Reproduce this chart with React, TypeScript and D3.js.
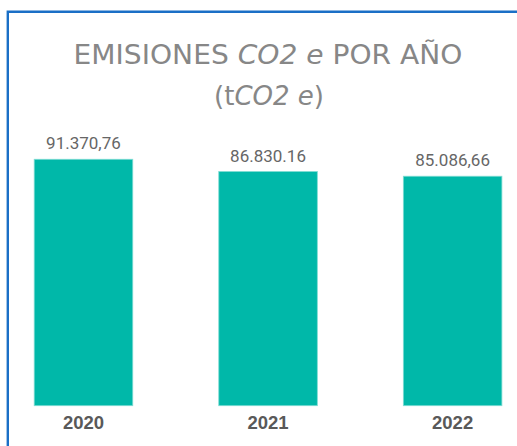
import React from "react";
import * as d3 from "d3";

const years = ["2020", "2021", "2022"];
const values = [91370.76, 86830.16, 85086.66];
const valueLabels = ["91.370,76", "86.830.16", "85.086,66"];
const titleLine1a = "EMISIONES ";
const titleLine1b = "CO2 e";
const titleLine1c = " POR AÑO";

const W = 517;
const H = 446;

export default function App() {
  const x = d3
    .scaleBand<string>()
    .domain(years)
    .range([-8.8, 544.9])
    .paddingInner(0.466)
    .paddingOuter(0.233);
  const y = d3.scaleLinear().domain([0, 100000]).range([405.7, 136]);

  return (
    <svg
      width={W}
      height={H}
      style={{ position: "absolute", left: 0, top: 0, background: "#fff" }}
    >
      <rect x={0} y={0} width={W} height={H} fill="#fff" />
      <path
        d={`M7.8,${H} L7.8,11.8 L${W},11.8`}
        fill="none"
        stroke="#1a6fc6"
        strokeWidth={2.4}
      />
      <text
        x={268}
        y={64}
        textAnchor="middle"
        fill="#878787"
        fontFamily="'DejaVu Sans', sans-serif"
        fontSize={26}
        textLength={389}
        lengthAdjust="spacingAndGlyphs"
      >
        <tspan>{titleLine1a}</tspan>
        <tspan fontStyle="italic">{titleLine1b}</tspan>
        <tspan>{titleLine1c}</tspan>
      </text>
      <text
        x={269}
        y={105}
        textAnchor="middle"
        fill="#878787"
        fontFamily="'DejaVu Sans', sans-serif"
        fontSize={26}
      >
        <tspan>(t</tspan>
        <tspan fontStyle="italic">CO2 e</tspan>
        <tspan>)</tspan>
      </text>
      {years.map((yr, i) => (
        <g key={yr}>
          <rect
            x={x(yr)}
            y={y(values[i])}
            width={x.bandwidth()}
            height={y(0) - y(values[i])}
            fill="#00b8a9"
            stroke="#7fdcd3"
            strokeWidth={0.8}
          />
          <text
            x={(x(yr) as number) + x.bandwidth() / 2}
            y={y(values[i]) - 10}
            textAnchor="middle"
            fill="#666666"
            fontFamily="Roboto, sans-serif"
            fontSize={17}
          >
            {valueLabels[i]}
          </text>
          <text
            x={(x(yr) as number) + x.bandwidth() / 2}
            y={428.5}
            textAnchor="middle"
            fill="#595959"
            fontFamily="'Liberation Sans', Arial, sans-serif"
            fontWeight="bold"
            fontSize={18.5}
          >
            {yr}
          </text>
        </g>
      ))}
    </svg>
  );
}
